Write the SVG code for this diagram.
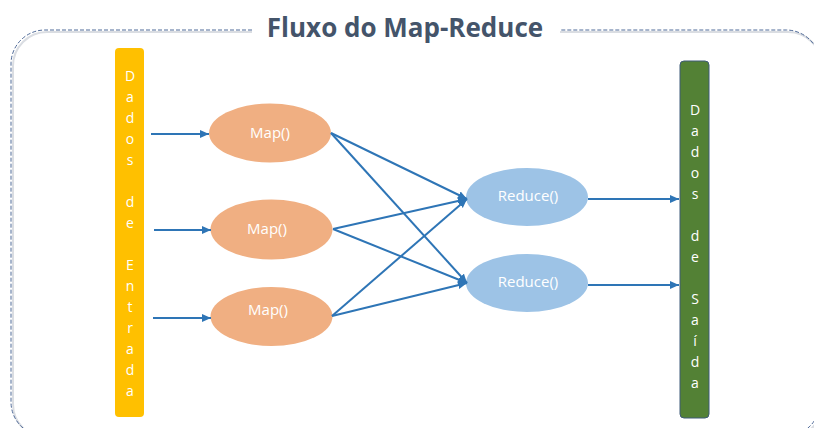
<svg xmlns="http://www.w3.org/2000/svg" width="814" height="428" viewBox="0 0 814 428">
<style>
.frame{fill:none;stroke:#4F6A98;stroke-width:1;stroke-dasharray:4 2}
.shadow{fill:none;stroke:#DADDE2;stroke-width:2}
.title{font-family:"Open Sans","Liberation Sans",sans-serif;font-weight:bold;font-size:26px;fill:#44546A;text-anchor:middle}
.lbl{font-family:"Open Sans","Liberation Sans",sans-serif;font-size:15px;fill:#FFFFFF;text-anchor:middle}
.vert{font-family:"Open Sans","Liberation Sans",sans-serif;font-size:14px;fill:#FFFFFF;text-anchor:middle}
.map{fill:#F0AF82}
.red{fill:#9DC3E6}
.conn{stroke:#2E75B6;stroke-width:2;fill:none;marker-end:url(#ah)}
</style>
<defs>
<marker id="ah" markerUnits="userSpaceOnUse" markerWidth="10" markerHeight="10" refX="9" refY="4" orient="auto">
<path d="M0,0 L9,4 L0,8 Z" fill="#2E75B6"/>
</marker>
</defs>
<rect width="814" height="428" fill="#FFFFFF"/>
<g id="frame">
<path class="shadow" d="M252,32 H47 A34,34 0 0 0 13,66 V404 A34,34 0 0 0 47,438 H788 A34,34 0 0 0 822,404 V66 A34,34 0 0 0 788,32 H560"/>
<path class="frame" d="M252,30 H45 A34,34 0 0 0 11,64 V402 A34,34 0 0 0 45,436 H786 A34,34 0 0 0 820,402 V64 A34,34 0 0 0 786,30 H560"/>
<text class="title" x="405" y="37">Fluxo do Map-Reduce</text>
</g>
<g id="entrada">
<rect x="115" y="48" width="29" height="369" rx="4" fill="#FFC000"/>
<text class="vert" x="130" y="81"><tspan x="130">D</tspan><tspan x="130" dy="21">a</tspan><tspan x="130" dy="21">d</tspan><tspan x="130" dy="21">o</tspan><tspan x="130" dy="21">s</tspan><tspan x="130" dy="42">d</tspan><tspan x="130" dy="21">e</tspan><tspan x="130" dy="42">E</tspan><tspan x="130" dy="21">n</tspan><tspan x="130" dy="21">t</tspan><tspan x="130" dy="21">r</tspan><tspan x="130" dy="21">a</tspan><tspan x="130" dy="21">d</tspan><tspan x="130" dy="21">a</tspan></text>
</g>
<g id="saida">
<rect x="680" y="61" width="29" height="357" rx="4" fill="#538135" stroke="#3E5A78" stroke-width="1"/>
<text class="vert" x="695" y="115"><tspan x="695">D</tspan><tspan x="695" dy="21">a</tspan><tspan x="695" dy="21">d</tspan><tspan x="695" dy="21">o</tspan><tspan x="695" dy="21">s</tspan><tspan x="695" dy="42">d</tspan><tspan x="695" dy="21">e</tspan><tspan x="695" dy="42">S</tspan><tspan x="695" dy="21">a</tspan><tspan x="695" dy="21">í</tspan><tspan x="695" dy="21">d</tspan><tspan x="695" dy="21">a</tspan></text>
</g>
<g id="map1"><ellipse class="map" cx="270" cy="133" rx="61" ry="29.5"/><text class="lbl" x="270" y="138">Map()</text></g>
<g id="map2"><ellipse class="map" cx="271.5" cy="229.5" rx="61" ry="30"/><text class="lbl" x="267" y="234">Map()</text></g>
<g id="map3"><ellipse class="map" cx="271.5" cy="316.5" rx="61" ry="29.5"/><text class="lbl" x="268" y="315">Map()</text></g>
<g id="reduce1"><ellipse class="red" cx="527" cy="197" rx="61" ry="29"/><text class="lbl" x="528" y="201">Reduce()</text></g>
<g id="reduce2"><ellipse class="red" cx="527" cy="283" rx="61" ry="29"/><text class="lbl" x="528" y="287">Reduce()</text></g>
<g id="connectors">
<line class="conn" x1="151" y1="134" x2="209" y2="134"/>
<line class="conn" x1="154" y1="230" x2="211" y2="230"/>
<line class="conn" x1="153" y1="318" x2="211" y2="318"/>
<line class="conn" x1="331" y1="133" x2="467" y2="199"/>
<line class="conn" x1="331" y1="133" x2="467" y2="283"/>
<line class="conn" x1="333" y1="229" x2="467" y2="199"/>
<line class="conn" x1="333" y1="229" x2="467" y2="283"/>
<line class="conn" x1="332" y1="316" x2="467" y2="199"/>
<line class="conn" x1="332" y1="316" x2="467" y2="283"/>
<line class="conn" x1="588" y1="199" x2="679" y2="199"/>
<line class="conn" x1="588" y1="285" x2="679" y2="285"/>
</g>
</svg>
